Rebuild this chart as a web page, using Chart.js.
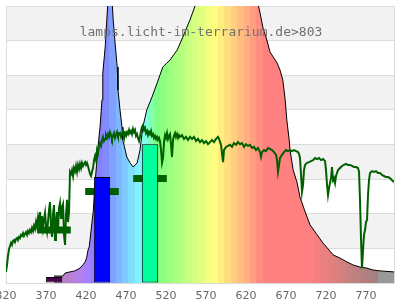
<!DOCTYPE html>
<html><head><meta charset="utf-8">
<script src="https://cdn.jsdelivr.net/npm/chart.js@4.4.0/dist/chart.umd.min.js"></script>
<style>html,body{margin:0;padding:0;background:#fff;overflow:hidden;}</style>
</head><body>
<canvas id="c" width="400" height="300"></canvas>
<script>
const xTicks = [320,370,420,470,520,570,620,670,720,770];
const titleText = 'lamps.licht-im-terrarium.de>803';

const lampNm = [380,391,394,400,406,412.5,416,419,421,422.5,424,425,427.5,429,431,435,437.5,440,441,444,446,447.5,449,450.5,452.5,454,456,459,460,462.5,465,466,469,471,475,479,484,487.5,491,496,502.5,509,512.5,516,521,525,534,541,550,559,570,585,600,615,625,634,637.5,641,646,650,654,659,662.5,666,669,671,674,675,679,684,687.5,694,700,709,716,725,729,737.5,746,754,762.5,771,779,787.5,805];
const lampVal = [2.0,2.0,2.9,3.2,3.5,4.3,5.2,6.1,7.5,9.5,10.4,12.4,17.6,20.5,28,39.3,45,52.9,60.6,68.2,76,81.7,88,88,81.7,76,70.2,62.4,55.7,50,45,41.3,38.4,36.4,34.7,33.5,34.7,38.4,45,50,53.7,57.8,60.1,62.4,63.5,64.4,67.3,71,76,81.7,88,95,100,97,90,81.7,78,73.9,70.2,66.7,65.3,63.5,61.5,58.6,52.9,47.1,41.3,38.4,32.6,28.9,24.8,20.5,16.8,13.9,11.6,9.2,8.1,7.2,6.1,5.2,4.6,4.3,3.75,3.5,3.2];

const sunNm = [
320,321.3,322.5,323.8,325,326.3,327.5,328.8,330,331.3,
332.5,333.8,335,336.3,337.5,338.8,340,341.3,342.5,343.8,
345,346.3,347.5,348.8,350,351.3,352.5,353.8,355,356.3,
357.5,358.8,360,361.3,362.5,363.8,365,366.3,367.5,368.8,
370,371.3,372.5,373.8,375,376.3,377.5,378.8,380,381.3,
382.5,383.8,385,386.3,387.5,388.8,390,391.3,392.5,393.8,
395,396.3,397.5,398.8,400,401.3,402.5,403.8,405,406.3,
407.5,408.8,410,411.3,412.5,413.8,415,416.3,417.5,418.8,
420,421.3,422.5,423.8,425,426.3,427.5,428.8,430,431.3,
432.5,433.8,435,436.3,437.5,438.8,440,441.3,442.5,443.8,
445,446.3,447.5,448.8,450,451.3,452.5,453.8,455,456.3,
457.5,458.8,460,461.3,462.5,463.8,465,466.3,467.5,468.8,
470,471.3,472.5,473.8,475,476.3,477.5,478.8,480,481.3,
482.5,483.8,485,486.3,487.5,488.8,490,491.3,492.5,493.8,
495,496.3,497.5,498.8,500,501.3,502.5,503.8,505,506.3,
507.5,508.8,510,511.3,512.5,513.8,515,516.3,517.5,518.8,
520,521.3,522.5,523.8,525,526.3,527.5,528.8,530,531.3,
532.5,533.8,535,536.3,537.5,540,542.5,545,547.5,550,
552.5,555,557.5,560,562.5,565,567.5,570,572.5,575,
577.5,580,582.5,585,586.3,588.8,591.3,592.5,595,597.5,
600,602.5,605,607.5,610,612.5,615,617.5,620,622.5,
625,627.5,630,632.5,635,637.5,638.8,640,642.5,645,
647.5,650,652.5,655,657.5,658.8,660,661.3,662.5,665,
667.5,670,672.5,675,677.5,680,682.5,685,686.3,687.5,
688.8,690,691.3,692.5,693.8,696.3,698.8,701.3,703.8,706.3,
708.8,711.3,713.8,716.3,718.8,720,721.3,722.5,723.8,725,
726.3,727.5,728.8,730,731.3,732.5,733.8,735,737.5,740,
742.5,745,747.5,750,752.5,755,757.5,760,761.3,762.5,
763.8,765,766.3,767.5,768.8,770,771.3,772.5,773.8,775,
777.5,780,782.5,785,787.5,790,792.5,795,797.5,800,
802.5,805];
const sunVal = [
3.2,5.2,7.8,9.8,10.7,11.6,11.0,12.1,12.4,11.8,
12.7,13.0,12.4,13.3,13.0,13.9,13.6,14.4,13.6,14.2,
14.7,13.9,15.0,14.4,15.3,14.7,15.9,15.0,16.5,15.6,
17.6,16.2,18.8,16.8,20.5,15.3,19.3,15.9,18.2,20.2,
16.5,14.7,17.6,21.1,23.4,16.2,13.3,19.9,22.5,12.4,
17.6,20.5,15.3,21.7,23.1,18.8,21.9,22.8,13.9,11.0,
19.6,24.0,17.6,20.5,32.1,31.5,32.6,30.9,33.2,32.3,
33.8,32.1,34.1,32.9,34.4,33.2,34.7,33.8,34.4,34.9,
34.1,34.7,33.8,32.6,31.5,30.9,32.1,33.2,35.5,36.7,
35.5,38.4,37.5,39.6,40.4,39.6,41.3,42.2,41.0,41.6,
42.7,41.9,43.0,42.2,43.6,42.7,41.6,42.5,43.3,41.9,
42.7,43.6,42.5,43.0,43.3,42.2,43.0,43.9,42.7,43.3,
42.5,43.6,43.0,44.2,43.3,43.9,43.0,44.5,43.6,44.2,
42.5,43.0,41.9,41.0,42.2,43.9,45.1,45.6,44.2,44.8,
43.3,43.9,42.7,43.6,43.0,43.9,42.5,43.0,41.9,42.5,
41.6,42.2,41.3,41.9,41.0,38.4,34.7,36.1,40.7,42.7,
41.9,43.3,41.6,42.5,43.0,39.9,36.4,41.3,42.5,43.3,
42.2,43.0,41.9,42.7,42.2,42.7,41.6,42.2,41.3,42.2,
41.6,42.2,41.0,41.6,40.7,41.3,40.4,41.0,40.1,40.7,
41.3,40.7,41.6,42.2,41.6,39.9,34.9,38.4,39.3,39.6,
39.9,39.3,40.4,39.9,40.7,40.1,40.4,39.3,40.1,39.6,
39.9,39.0,39.3,38.4,39.0,37.8,36.4,37.8,38.4,38.1,
39.0,38.7,38.4,37.8,37.0,35.5,32.1,34.1,36.1,37.0,
37.8,38.4,38.1,38.4,38.1,38.4,38.1,37.8,37.3,36.1,
31.2,26.3,28.3,32.6,34.1,34.7,34.9,35.2,35.5,36.1,
35.8,36.1,35.5,35.8,35.2,32.6,28.3,25.4,27.4,28.9,
30.3,33.5,29.7,30.3,28.9,30.9,31.8,32.6,33.2,33.8,
34.1,34.4,34.1,34.1,33.8,33.5,33.5,33.2,32.1,24.0,
12.4,4.3,9.5,13.9,15.3,17.6,18.2,25.4,29.7,31.8,
32.3,32.1,32.3,31.8,31.8,31.2,30.9,30.6,30.6,30.3,
29.7,29.2];

const barNm = [380,440,500];
const barVal = [1.7,30.6,40.1];
const barColors = ['#48004a','#0000ff','#00ff9c'];

const markFrom = [359,419,479];
const markTo = [401,461,521];
const markVal = [15.3,26.4,30.2];

// wavelength -> pastel spectral colour
function wlColor(w){
  if (w < 375 || w >= 785) return 'rgb(153,153,153)';
  let r=0,g=0,b=0;
  if (w<440){r=(440-w)/60;b=1;}
  else if(w<490){g=(w-440)/50;b=1;}
  else if(w<510){g=1;b=(510-w)/20;}
  else if(w<580){r=(w-510)/70;g=1;}
  else if(w<645){r=1;g=(645-w)/65;}
  else {r=1;}
  let f=1;
  if(w<420) f=0.3+0.7*(w-380)/40;
  else if(w>700) f=0.3+0.7*(780-w)/80;
  f=Math.max(0.3,Math.min(1,f));
  const c=v=>Math.round(127.5+127.5*v*f);
  return 'rgb('+c(r)+','+c(g)+','+c(b)+')';
}
function lampFill(context){
  const chart=context.chart, area=chart.chartArea;
  if(!area) return 'rgba(0,0,0,0)';
  const xs=chart.scales.x;
  const x0=xs.getPixelForValue(xs.min), x1=xs.getPixelForValue(xs.max);
  const g=chart.ctx.createLinearGradient(x0,0,x1,0);
  const span=xs.max-xs.min;
  const off=w=>Math.min(1,Math.max(0,(w-xs.min)/span));
  const STEP=8;
  for(let s=369; s<=809; s+=STEP){
    const col=wlColor(s+STEP/2);
    g.addColorStop(off(s),col);
    g.addColorStop(off(s+STEP),col);
  }
  return g;
}

const lampData = lampNm.map((x,i)=>({x:x,y:lampVal[i]}));
const sunData = sunNm.map((x,i)=>({x:x,y:sunVal[i]}));
const barData = barNm.map((x,i)=>({x:x,y:barVal[i]}));
const markData = [];
markFrom.forEach((f,i)=>{
  markData.push({x:f,y:markVal[i]},{x:markTo[i],y:markVal[i]},{x:markTo[i]+1,y:null});
});

const bandsPlugin = {
  id:'bands',
  beforeDraw(chart){
    const {ctx, chartArea:a, scales:{y}} = chart;
    ctx.save();
    ctx.fillStyle='#f2f2f2';
    for(let v=10; v<80; v+=20){
      const t=y.getPixelForValue(v+10), b=y.getPixelForValue(v);
      ctx.fillRect(a.left,t,a.right-a.left,b-t);
    }
    ctx.restore();
  },
  beforeDatasetsDraw(chart){
    const {ctx, chartArea:a} = chart;
    ctx.save();
    ctx.strokeStyle='#dcdcdc'; ctx.lineWidth=1;
    ctx.beginPath();
    ctx.moveTo(Math.round(a.right)+0.5,a.top); ctx.lineTo(Math.round(a.right)+0.5,a.bottom);
    ctx.stroke();
    ctx.restore();
  }
};
const titlePlugin = {
  id:'siteTitle',
  afterDraw(chart){
    const {ctx, chartArea:a} = chart;
    ctx.save();
    ctx.font='13px "DejaVu Sans Mono"';
    ctx.fillStyle='#707070';
    ctx.textAlign='center';
    ctx.textBaseline='alphabetic';
    ctx.fillText(titleText,(a.left+a.right)/2+1,a.top+30);
    ctx.restore();
  }
};

new Chart(document.getElementById('c'),{
  type:'line',
  data:{datasets:[
    {type:'bar',data:barData,backgroundColor:barColors,borderColor:'#000',borderWidth:1,borderSkipped:false,barPercentage:0.41,categoryPercentage:1,order:1},
    {type:'line',data:markData,borderColor:'#006000',borderWidth:7,borderCapStyle:'butt',pointRadius:0,spanGaps:false,fill:false,order:2},
    {type:'line',data:sunData,borderColor:'#006000',borderWidth:2,pointRadius:0,fill:false,tension:0,order:3},
    {type:'line',data:lampData,borderColor:'#000',borderWidth:1,backgroundColor:lampFill,fill:'origin',pointRadius:0,tension:0,order:4}
  ]},
  options:{
    responsive:false,animation:false,devicePixelRatio:1,
    layout:{padding:{left:6,right:6,top:6,bottom:0}},
    plugins:{legend:{display:false},tooltip:{enabled:false},title:{display:false}},
    scales:{
      x:{type:'linear',min:320,max:805,offset:false,
        grid:{display:false,drawTicks:false,offset:false},
        border:{display:true,color:'#dcdcdc'},
        ticks:{autoSkip:false,maxRotation:0,padding:7,color:'#666',font:{family:'DejaVu Sans',size:11},callback:v=>String(v)},
        afterBuildTicks:s=>{s.ticks=xTicks.map(v=>({value:v}));},
        afterFit:s=>{s.paddingLeft=0;s.paddingRight=0;s.height=17;}
      },
      y:{type:'linear',min:0,max:80,
        ticks:{display:false,stepSize:10},
        grid:{color:'#dcdcdc',drawTicks:false},
        border:{display:true,color:'#dcdcdc'},
        afterFit:s=>{s.width=0;s.paddingTop=0;s.paddingBottom=0;}
      }
    }
  },
  plugins:[bandsPlugin,titlePlugin]
});
</script>
</body></html>
